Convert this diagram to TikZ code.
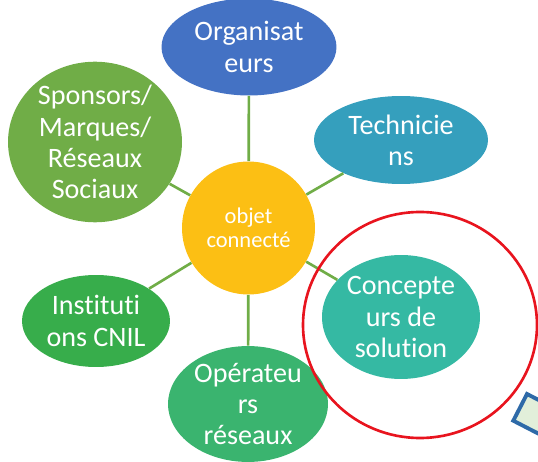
\documentclass[tikz,border=0pt]{standalone}
\usepackage{fontspec}
\setmainfont{Carlito}[Ligatures=NoCommon]
\usetikzlibrary{shapes.geometric}
\definecolor{orga}{HTML}{4472C4}
\definecolor{tech}{HTML}{359FBD}
\definecolor{conc}{HTML}{35B9A3}
\definecolor{oper}{HTML}{3AB46F}
\definecolor{inst}{HTML}{37AD4B}
\definecolor{spon}{HTML}{70AD47}
\definecolor{obj}{HTML}{FCBF14}
\definecolor{vertlien}{HTML}{70AD47}
\definecolor{rouge}{HTML}{E8141E}
\definecolor{bleu}{HTML}{2E6AA8}
\definecolor{vertpale}{HTML}{E2EFDA}
\tikzset{
  acteur/.style={ellipse,inner sep=0pt,text=white,align=center,
    font=\fontsize{16}{17.8}\selectfont},
  lien/.style={draw=vertlien,line width=1.5pt}
}
\begin{document}
\begin{tikzpicture}[x=0.02cm,y=-0.02cm]
\useasboundingbox (0,0) rectangle (538,462);
\node[circle,fill=obj,minimum size=2.66cm,inner sep=0pt,text=white,align=center,
  font=\fontsize{12.8}{13.6}\selectfont] (objet) at (248.5,228) {objet\\connecté};
\node[acteur,fill=orga,minimum width=3.5cm,minimum height=1.94cm] (orga) at (249,47) {Organisat\\eurs};
\node[acteur,fill=tech,minimum width=3.48cm,minimum height=1.76cm] (tech) at (401,140) {Technicie\\ns};
\node[acteur,fill=spon,minimum width=3.48cm,minimum height=2.52cm] (spon) at (95,142) {Sponsors/\\Marques/\\Réseaux\\Sociaux};
\node[acteur,fill=inst,minimum width=2.96cm,minimum height=1.84cm] (inst) at (96,321) {Instituti\\ons CNIL};
\node[acteur,fill=oper,minimum width=3.2cm,minimum height=2.24cm] (oper) at (248,404) {Opérateu\\rs\\réseaux};
\node[acteur,fill=conc,minimum width=3.16cm,minimum height=2.48cm] (conc) at (401,317) {Concepte\\urs de\\solution};
% liens vers l'objet
\foreach \a in {orga,tech,spon,inst,oper,conc}
  \draw[lien] (objet) -- (\a);
\draw[rouge,line width=1.5pt] (420,325) ellipse [x radius=117,y radius=113];
\draw[bleu,fill=vertpale,line width=2.2pt] (527,394) -- ++(71,36.6) -- ++(-13.7,26.7) -- ++(-71,-36.6) -- cycle;
\end{tikzpicture}
\end{document}
